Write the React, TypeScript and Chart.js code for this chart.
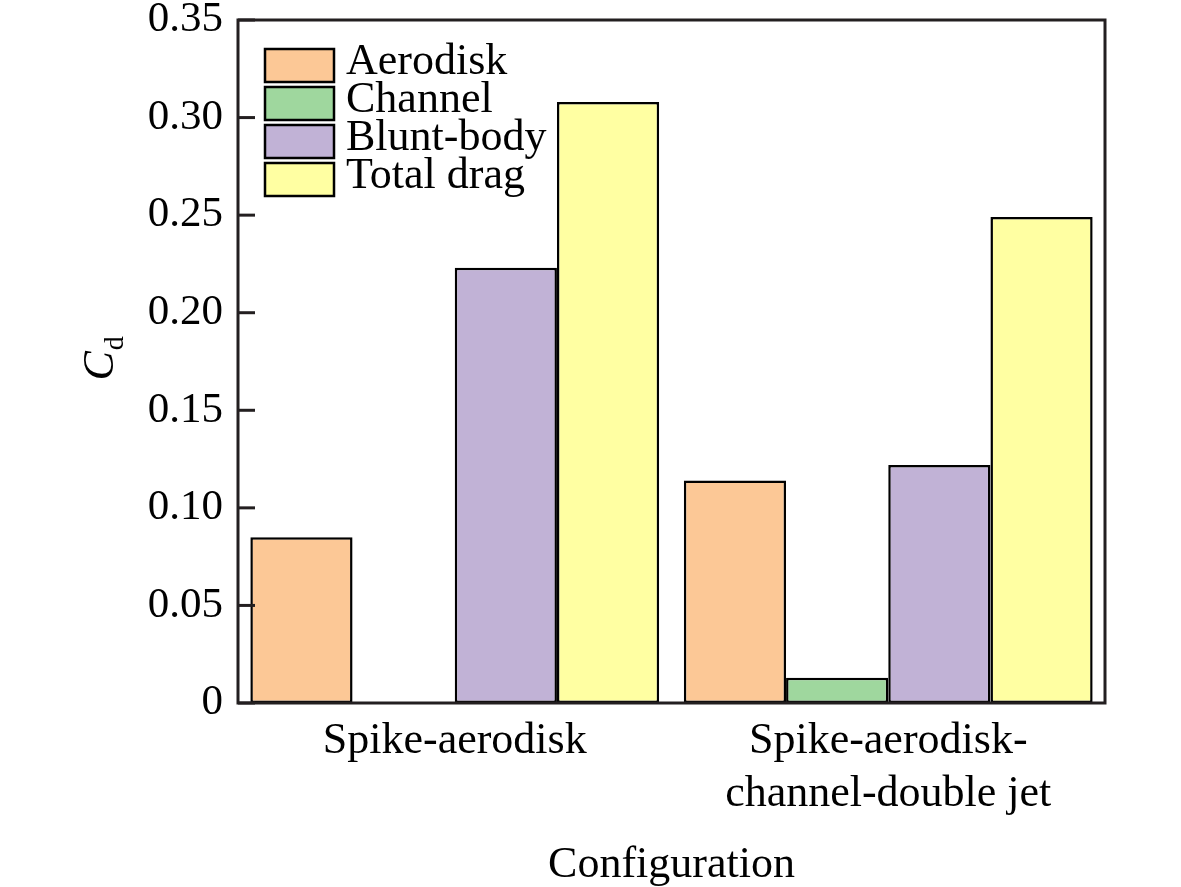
import React, { useEffect, useRef } from "react";
import { Chart, registerables } from "chart.js";

Chart.register(...registerables);

const categories = [["Spike-aerodisk"], ["Spike-aerodisk-", "channel-double jet"]];
const seriesNames = ["Aerodisk", "Channel", "Blunt-body", "Total drag"];
const aerodisk = [0.085, 0.114];
const channel = [0, 0.013];
const bluntBody = [0.223, 0.122];
const totalDrag = [0.308, 0.249];
const yTickValues = [0, 0.05, 0.1, 0.15, 0.2, 0.25, 0.3, 0.35];
const yTickLabels = ["0", "0.05", "0.10", "0.15", "0.20", "0.25", "0.30", "0.35"];
const seriesColors = ["#FCC896", "#9FD79E", "#C1B2D6", "#FFFFA2"];
const xTitle = "Configuration";
const yTitleMain = "C";
const yTitleSub = "d";

const FONT = "'Liberation Serif', 'Times New Roman', serif";
const AXIS_COLOR = "#231F20";

const framePlugin = {
  id: "frame",
  afterDatasetsDraw(chart: any) {
    const { ctx, chartArea: a, scales } = chart;
    const y = scales.y;
    ctx.save();
    ctx.strokeStyle = AXIS_COLOR;
    ctx.lineWidth = 3;
    y.ticks.forEach((t: any) => {
      const py = y.getPixelForValue(t.value);
      ctx.beginPath();
      ctx.moveTo(a.left, py);
      ctx.lineTo(a.left + 17, py);
      ctx.stroke();
    });
    ctx.strokeRect(a.left, a.top, a.right - a.left, a.bottom - a.top);
    ctx.restore();
  },
};

const customLegendPlugin = {
  id: "customLegend",
  afterDraw(chart: any) {
    const { ctx, chartArea: a } = chart;
    const x0 = a.left + 27;
    const y0 = a.top + 29;
    const rowH = 38;
    const boxW = 69;
    const boxH = 33;
    ctx.save();
    chart.data.datasets.forEach((ds: any, i: number) => {
      const by = y0 + i * rowH;
      ctx.fillStyle = ds.backgroundColor;
      ctx.fillRect(x0, by, boxW, boxH);
      ctx.strokeStyle = "#000";
      ctx.lineWidth = 2.5;
      ctx.strokeRect(x0, by, boxW, boxH);
      ctx.fillStyle = "#000";
      ctx.font = `44px ${FONT}`;
      ctx.textBaseline = "alphabetic";
      ctx.textAlign = "left";
      ctx.fillText(ds.label, x0 + boxW + 12, by + 25);
    });
    ctx.restore();
  },
};

const yTitlePlugin = {
  id: "yTitle",
  afterDraw(chart: any) {
    const { ctx, chartArea: a } = chart;
    const cy = (a.top + a.bottom) / 2;
    ctx.save();
    ctx.translate(113, cy + 19);
    ctx.rotate(-Math.PI / 2);
    ctx.fillStyle = "#000";
    ctx.textBaseline = "alphabetic";
    ctx.textAlign = "left";
    ctx.font = `italic 44px ${FONT}`;
    ctx.fillText(yTitleMain, 0, 0);
    const w = ctx.measureText(yTitleMain).width;
    ctx.font = `28px ${FONT}`;
    ctx.fillText(yTitleSub, w + 1, 10);
    ctx.restore();
  },
};

export default function App() {
  const canvasRef = useRef<HTMLCanvasElement | null>(null);

  useEffect(() => {
    document.body.style.margin = "0";
    const canvas = canvasRef.current;
    if (!canvas) return;
    const seriesData = [aerodisk, channel, bluntBody, totalDrag];
    const chart = new Chart(canvas, {
      type: "bar",
      data: {
        labels: categories as any,
        datasets: seriesNames.map((name, i) => ({
          label: name,
          data: seriesData[i],
          backgroundColor: seriesColors[i],
          borderColor: "#000",
          borderWidth: 2.5,
          borderSkipped: false,
          barPercentage: 1,
          categoryPercentage: 0.943,
        })),
      },
      options: {
        animation: false,
        responsive: false,
        devicePixelRatio: 1,
        layout: { padding: { top: 20, right: 76, left: 0, bottom: 0 } },
        plugins: {
          legend: { display: false },
          tooltip: { enabled: false },
        },
        scales: {
          x: {
            grid: { display: false, drawTicks: false },
            border: { display: false },
            ticks: {
              color: "#000",
              padding: 12,
              font: { family: FONT, size: 44, lineHeight: 1.2 },
            },
            title: {
              display: true,
              text: xTitle,
              color: "#000",
              font: { family: FONT, size: 44, lineHeight: 1 },
              padding: { top: 0, bottom: 0 },
            },
            afterFit(scale: any) {
              scale.height = 184;
            },
          },
          y: {
            min: 0,
            max: 0.35,
            grid: { display: false, drawTicks: false },
            border: { display: false },
            afterBuildTicks(scale: any) {
              scale.ticks = yTickValues.map((v) => ({ value: v }));
            },
            ticks: {
              color: "#000",
              padding: 15,
              font: { family: FONT, size: 43, lineHeight: 0.1 },
              callback: (v: any) => {
                const idx = yTickValues.findIndex((t) => Math.abs(t - Number(v)) < 1e-9);
                return idx >= 0 ? yTickLabels[idx] : "";
              },
            },
            afterFit(scale: any) {
              scale.width = 238;
            },
          },
        },
      },
      plugins: [framePlugin, customLegendPlugin, yTitlePlugin],
    });
    return () => chart.destroy();
  }, []);

  return (
    <div style={{ position: "absolute", left: 0, top: 0, width: 1181, height: 887, background: "#fff" }}>
      <canvas ref={canvasRef} width={1181} height={887} style={{ width: 1181, height: 887 }} />
    </div>
  );
}
